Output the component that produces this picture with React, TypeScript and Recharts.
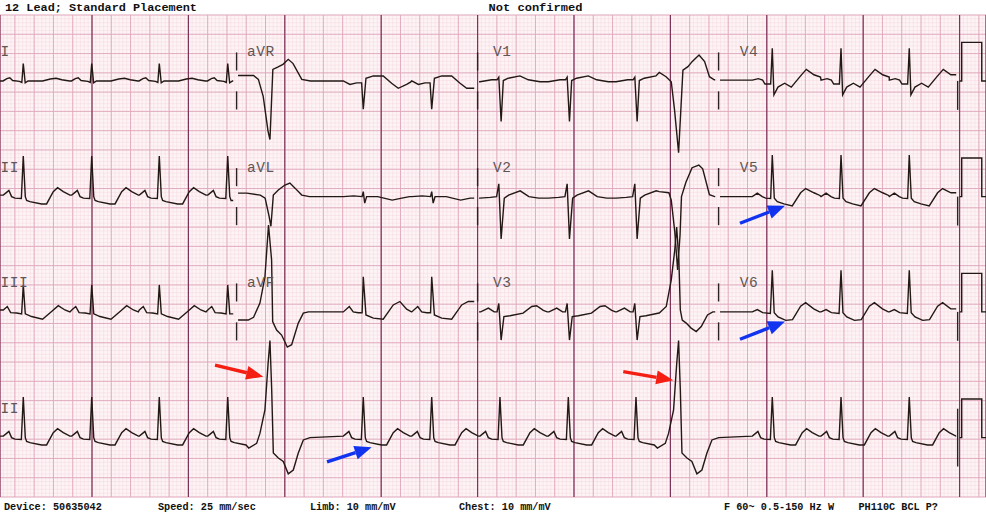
import React from "react";
import {
  CartesianGrid,
  ComposedChart,
  Line,
  ReferenceDot,
  ReferenceLine,
  XAxis,
  YAxis,
} from "recharts";

type Pt = [number, number]; // [seconds from R, mV]

// R times (s)
const NORMAL_BEATS = [0.287, 0.997, 1.698, 2.408, 3.814, 4.524, 5.232, 5.941, 6.643, 8.057, 8.77, 9.478];
const PVC_BEATS = [2.846, 7.085];

// beat shapes per lead
const BEAT_I: Pt[] = [[-0.21, 0], [-0.17, 0.06], [-0.14, 0.08], [-0.11, 0.01], [-0.04, -0.01], [-0.015, -0.04], [0, 0.45], [0.02, -0.05], [0.05, 0], [0.2, 0], [0.28, 0.05], [0.34, 0.07], [0.4, 0.03], [0.48, 0]];
const BEAT_II: Pt[] = [[-0.207, 0.04], [-0.173, 0.11], [-0.149, 0.16], [-0.121, 0], [-0.086, -0.04], [-0.02, -0.05], [0, 1.05], [0.021, 0], [0.035, -0.1], [0.069, -0.13], [0.19, -0.19], [0.242, -0.19], [0.311, 0.13], [0.356, 0.23], [0.415, 0.13], [0.484, 0.04]];
const PVC_II: Pt[] = [[-0.22, -0.27], [-0.138, -0.15], [-0.104, 0.11], [-0.052, 0.72], [-0.02, 1.9], [0, 2.52], [0.018, 1.24], [0.035, -0.4], [0.087, -0.53], [0.138, -0.62], [0.19, -0.94], [0.242, -0.84], [0.294, -0.4], [0.346, -0.06], [0.415, 0]];
const BEAT_III: Pt[] = [[-0.207, 0.05], [-0.166, 0.14], [-0.131, -0.02], [-0.069, -0.03], [-0.017, -0.05], [0, 0.7], [0.021, -0.05], [0.086, -0.12], [0.2, -0.19], [0.294, 0.01], [0.363, 0.16], [0.432, 0.05], [0.484, 0]];
const BEAT_AVR: Pt[] = [[-0.207, 0], [-0.138, -0.09], [-0.069, -0.05], [-0.017, -0.05], [0, -0.73], [0.028, 0.07], [0.104, 0.13], [0.207, 0.13], [0.294, -0.06], [0.363, -0.19], [0.45, -0.09], [0.49, -0.03]];
const PVC_AVR: Pt[] = [[-0.346, 0.14], [-0.17, 0.14], [-0.12, 0.04], [-0.07, -0.4], [-0.02, -1.3], [0, -1.52], [0.03, 0.3], [0.08, 0.36], [0.135, 0.43], [0.19, 0.56], [0.24, 0.45], [0.33, 0.04], [0.42, 0]];
const BEAT_AVL: Pt[] = [[-0.207, 0], [-0.1, 0.02], [-0.012, 0], [0, 0.13], [0.015, -0.17], [0.035, 0], [0.15, 0], [0.3, -0.09], [0.4, -0.04], [0.48, 0]];
const PVC_AVL: Pt[] = [[-0.346, 0.04], [-0.24, 0.09], [-0.1, 0.04], [-0.05, -0.04], [-0.01, -0.5], [0.01, -0.77], [0.035, 0.04], [0.087, 0.17], [0.155, 0.3], [0.207, 0.35], [0.26, 0.22], [0.33, 0.04], [0.41, 0]];
const BEAT_AVF: Pt[] = [[-0.207, 0], [-0.145, 0.14], [-0.104, 0], [-0.052, -0.02], [-0.012, -0.02], [0, 0.91], [0.028, -0.08], [0.104, -0.16], [0.207, -0.19], [0.311, 0.18], [0.38, 0.27], [0.45, 0.07], [0.5, 0]];
const PVC_AVF: Pt[] = [[-0.346, -0.08], [-0.225, -0.21], [-0.17, -0.14], [-0.104, 0.23], [-0.052, 0.91], [-0.015, 2.25], [0.017, 1.35], [0.028, -0.25], [0.069, -0.47], [0.121, -0.6], [0.18, -0.91], [0.225, -0.85], [0.294, -0.29], [0.346, -0.03], [0.398, 0]];
const BEAT_V1: Pt[] = [[-0.207, -0.02], [-0.086, 0.03], [-0.03, 0.03], [-0.012, 0.1], [0.012, -1.05], [0.035, 0.01], [0.086, 0.07], [0.207, 0.13], [0.294, 0.03], [0.415, -0.02], [0.484, -0.02]];
const PVC_V1: Pt[] = [[-0.2, 0.22], [-0.13, 0.11], [-0.076, -0.02], [-0.042, -0.75], [0, -1.86], [0.045, 0.28], [0.097, 0.37], [0.14, 0.5], [0.212, 0.67], [0.27, 0.5], [0.32, 0.11], [0.37, 0.03], [0.41, 0]];
const BEAT_V2: Pt[] = [[-0.207, -0.04], [-0.1, -0.02], [-0.035, 0], [-0.012, 0.33], [0.012, -1.1], [0.045, -0.04], [0.09, 0.04], [0.21, 0.15], [0.3, 0], [0.4, -0.04], [0.484, -0.04]];
const PVC_V2: Pt[] = [[-0.2, 0.13], [-0.1, 0.1], [-0.076, -0.09], [-0.04, -0.9], [-0.01, -1.9], [0.015, -1], [0.03, 0], [0.076, 0.37], [0.14, 0.75], [0.21, 0.82], [0.25, 0.72], [0.32, 0.05], [0.375, 0], [0.41, 0]];
const BEAT_V3: Pt[] = [[-0.2, 0], [-0.12, 0.1], [-0.06, 0], [-0.03, 0], [-0.012, 0.22], [0.012, -0.73], [0.041, -0.12], [0.104, -0.1], [0.24, -0.03], [0.33, 0.14], [0.38, 0.16], [0.45, 0.04], [0.49, 0]];
const PVC_V3: Pt[] = [[-0.2, -0.03], [-0.128, 0.14], [-0.076, 0.83], [-0.04, 1.6], [-0.02, 2.2], [0.003, 1.35], [0.018, 0.05], [0.038, -0.21], [0.079, -0.29], [0.13, -0.42], [0.183, -0.51], [0.235, -0.38], [0.3, -0.08], [0.355, 0], [0.41, 0.03]];
const BEAT_V4: Pt[] = [[-0.207, 0.02], [-0.145, 0.06], [-0.1, 0.02], [-0.076, -0.08], [-0.017, -0.08], [0, 0.85], [0.017, -0.36], [0.059, -0.16], [0.128, -0.06], [0.197, -0.16], [0.294, 0.13], [0.353, 0.3], [0.432, 0.16], [0.5, 0.1]];
const BEAT_V5: Pt[] = [[-0.207, 0], [-0.155, 0.09], [-0.104, 0], [-0.069, -0.04], [-0.017, -0.05], [0, 1.08], [0.021, -0.04], [0.052, -0.13], [0.121, -0.19], [0.207, -0.24], [0.294, 0.1], [0.346, 0.21], [0.432, 0.1], [0.494, 0.03]];
const BEAT_V6: Pt[] = [[-0.207, 0], [-0.155, 0.06], [-0.1, -0.02], [-0.02, -0.04], [0, 1.08], [0.02, -0.02], [0.06, -0.13], [0.14, -0.22], [0.21, -0.2], [0.294, 0.15], [0.346, 0.24], [0.43, 0.08], [0.49, 0]];

// 1 mV calibration pulse at the end of each row
const CAL_PULSE: Pt[] = [[10.0, 0], [10.022, 0], [10.022, 1], [10.23, 1], [10.23, 0], [10.274, 0]];

// lead-change marks (mV)
const SEP_TIMES = [2.5, 5, 7.5];
const SEP_BARS: Pt[] = [[0.27, 0.74], [-0.74, -0.27]];

// annotation arrows [[t, mm], [t, mm]]
const RED_ARROWS: [Pt, Pt][] = [[[2.276, 34.2], [2.777, 31.2]], [[6.511, 32.5], [7.03, 30.3]]];
const BLUE_ARROWS: [Pt, Pt][] = [[[3.438, 9.1], [3.901, 12.9]], [[7.722, 71.0], [8.189, 75.5]], [[7.722, 40.9], [8.189, 45.5]]];

const HEADER = ["12 Lead; Standard Placement", "Not confirmed"];
const FOOTER = ["Device: 50635042", "Speed: 25 mm/sec", "Limb: 10 mm/mV", "Chest: 10 mm/mV", "F 60~ 0.5-150 Hz W", "PH110C BCL P?"];

const X0 = 0.0456;
const X1 = 10.274;
const ROW_BASE = [107.9, 77.9, 48.0, 15.4]; // mm above bottom of grid
const SEGMENTS = [[0, 2.5], [2.5, 5], [5, 7.5], [7.5, 10]];
const LABEL_T = [X0 + 0.005, 2.608, 5.16, 7.72];

const LEADS = [
  { label: "I", row: 0, col: 0, normal: BEAT_I },
  { label: "aVR", row: 0, col: 1, normal: BEAT_AVR, pvc: PVC_AVR },
  { label: "V1", row: 0, col: 2, normal: BEAT_V1, pvc: PVC_V1 },
  { label: "V4", row: 0, col: 3, normal: BEAT_V4 },
  { label: "II", row: 1, col: 0, normal: BEAT_II },
  { label: "aVL", row: 1, col: 1, normal: BEAT_AVL, pvc: PVC_AVL },
  { label: "V2", row: 1, col: 2, normal: BEAT_V2, pvc: PVC_V2 },
  { label: "V5", row: 1, col: 3, normal: BEAT_V5 },
  { label: "III", row: 2, col: 0, normal: BEAT_III },
  { label: "aVF", row: 2, col: 1, normal: BEAT_AVF, pvc: PVC_AVF },
  { label: "V3", row: 2, col: 2, normal: BEAT_V3, pvc: PVC_V3 },
  { label: "V6", row: 2, col: 3, normal: BEAT_V6 },
  { label: "II", row: 3, col: -1, normal: BEAT_II, pvc: PVC_II },
];

function segRange(col: number) {
  if (col < 0) return [X0, 9.965];
  const [s, e] = SEGMENTS[col];
  return [Math.max(X0, s + 0.015), e - 0.035];
}

function buildTrace(lead: any) {
  const [start, end] = segRange(lead.col);
  const beats = [
    ...NORMAL_BEATS.map((t) => ({ t, shape: lead.normal as Pt[] })),
    ...(lead.pvc ? PVC_BEATS.map((t) => ({ t, shape: lead.pvc as Pt[] })) : []),
  ].sort((a, b) => a.t - b.t);
  const pts: { t: number; v: number }[] = [];
  beats.forEach((b, i) => {
    const next = beats[i + 1];
    const limit = next ? next.t + next.shape[0][0] : Infinity;
    b.shape.forEach(([dt, v]) => {
      const t = b.t + dt;
      if (t < limit && t >= start && t <= end) pts.push({ t, v });
    });
  });
  if (pts[0].t > start) pts.unshift({ t: start, v: pts[0].v });
  if (pts[pts.length - 1].t < end) pts.push({ t: end, v: pts[pts.length - 1].v });
  const base = ROW_BASE[lead.row];
  return pts.map((p) => ({ t: p.t, y: base + p.v * 10 }));
}

const TRACES = LEADS.map(buildTrace);
const CAL_TRACES = ROW_BASE.map((base) => CAL_PULSE.map(([t, v]) => ({ t, y: base + v * 10 })));

const MINOR_X = Array.from({ length: 255 }, (_, i) => Math.round((i + 2) * 4) / 100);
const BOX_X = Array.from({ length: 51 }, (_, i) => Math.round((i + 1) * 2) / 10);
const SEC_X = Array.from({ length: 10 }, (_, i) => i + 1);
const MINOR_Y = Array.from({ length: 126 }, (_, i) => i);
const BOX_Y = Array.from({ length: 26 }, (_, i) => i * 5);

const MONO = "'Liberation Mono', 'DejaVu Sans Mono', monospace";

function arrowShape(color: string) {
  return (p: any) => {
    const { x1, y1, x2, y2 } = p;
    const a = Math.atan2(y2 - y1, x2 - x1);
    const len = 17;
    const half = 7;
    const bx = x2 - len * Math.cos(a);
    const by = y2 - len * Math.sin(a);
    const nx = -Math.sin(a) * half;
    const ny = Math.cos(a) * half;
    return (
      <g>
        <line x1={x1} y1={y1} x2={bx} y2={by} stroke={color} strokeWidth={3.4} />
        <polygon points={`${x2},${y2} ${bx + nx},${by + ny} ${bx - nx},${by - ny}`} fill={color} />
      </g>
    );
  };
}

function labelShape(text: string) {
  return (p: any) => (
    <text x={p.cx} y={p.cy} fill="#5e5656" fontFamily={MONO} fontSize={14.5} letterSpacing={0.6}>
      {text}
    </text>
  );
}

export default function App() {
  const ax = { xAxisId: "m", yAxisId: "m" };
  return (
    <div style={{ position: "absolute", left: 0, top: 0, width: 986, height: 527, background: "#fff" }}>
      <svg width={986} height={527} style={{ position: "absolute", left: 0, top: 0 }}>
        <g fontFamily={MONO} fontWeight="bold" fill="#111">
          <text x={5} y={11} fontSize={11.8} textLength={192} lengthAdjust="spacingAndGlyphs">{HEADER[0]}</text>
          <text x={488.5} y={11} fontSize={11.8} textLength={94} lengthAdjust="spacingAndGlyphs">{HEADER[1]}</text>
          <text x={4} y={509.5} fontSize={10.2}>{FOOTER[0]}</text>
          <text x={158} y={509.5} fontSize={10.2}>{FOOTER[1]}</text>
          <text x={310} y={509.5} fontSize={10.2}>{FOOTER[2]}</text>
          <text x={459} y={509.5} fontSize={10.2}>{FOOTER[3]}</text>
          <text x={724} y={509.5} fontSize={10.2}>{FOOTER[4]}</text>
          <text x={858.5} y={509.5} fontSize={10.2}>{FOOTER[5]}</text>
        </g>
      </svg>
      <ComposedChart
        width={986}
        height={527}
        margin={{ top: 15, right: 0, bottom: 30, left: 0 }}
        style={{ position: "absolute", left: 0, top: 0 }}
      >
        <XAxis xAxisId="m" type="number" dataKey="t" domain={[X0, X1]} ticks={MINOR_X} interval={0} hide allowDataOverflow />
        <XAxis xAxisId="b" type="number" dataKey="t" domain={[X0, X1]} ticks={BOX_X} interval={0} hide allowDataOverflow />
        <XAxis xAxisId="s" type="number" dataKey="t" domain={[X0, X1]} ticks={SEC_X} interval={0} hide allowDataOverflow />
        <YAxis yAxisId="m" type="number" domain={[0, 125]} ticks={MINOR_Y} interval={0} hide allowDataOverflow />
        <YAxis yAxisId="b" type="number" domain={[0, 125]} ticks={BOX_Y} interval={0} hide allowDataOverflow />
        <YAxis yAxisId="s" type="number" domain={[0, 125]} ticks={BOX_Y} interval={0} hide allowDataOverflow />

        <CartesianGrid xAxisId="m" yAxisId="m" stroke="#f6dbe3" strokeWidth={0.6} fill="#fdf4f6" />
        <CartesianGrid xAxisId="b" yAxisId="b" stroke="#e0a6bb" strokeWidth={0.9} />
        <CartesianGrid xAxisId="s" yAxisId="s" stroke="#7e3358" strokeWidth={1.2} horizontal={false} />

        {TRACES.map((d, i) => (
          <Line key={`tr${i}`} {...ax} data={d} dataKey="y" type="linear" dot={false} activeDot={false}
            stroke="#221814" strokeWidth={1.4} isAnimationActive={false} />
        ))}
        {CAL_TRACES.map((d, i) => (
          <Line key={`cal${i}`} {...ax} data={d} dataKey="y" type="linear" dot={false} activeDot={false}
            stroke="#221814" strokeWidth={1.4} isAnimationActive={false} />
        ))}

        {ROW_BASE.slice(0, 3).flatMap((base, r) =>
          SEP_TIMES.flatMap((t) =>
            SEP_BARS.map(([a, b], k) => (
              <ReferenceLine key={`sep${r}-${t}-${k}`} {...ax} stroke="#2a2222" strokeWidth={1.4}
                segment={[{ x: t, y: base + a * 10 }, { x: t, y: base + b * 10 }]} />
            ))
          )
        )}
        {ROW_BASE.map((base, r) => (
          <ReferenceLine key={`end${r}`} {...ax} stroke="#2a2222" strokeWidth={1.4}
            segment={[{ x: 9.98, y: base - 7.5 }, { x: 9.98, y: r === 3 ? base + 7.5 : base }]} />
        ))}

        {LEADS.map((l, i) => (
          <ReferenceDot key={`lb${i}`} {...ax} r={0}
            x={l.col < 0 ? LABEL_T[0] : LABEL_T[l.col]}
            y={ROW_BASE[l.row] + 6.5} shape={labelShape(l.label)} />
        ))}

        {RED_ARROWS.map(([a, b], i) => (
          <ReferenceLine key={`ra${i}`} {...ax} segment={[{ x: a[0], y: a[1] }, { x: b[0], y: b[1] }]}
            shape={arrowShape("#f41e12")} />
        ))}
        {BLUE_ARROWS.map(([a, b], i) => (
          <ReferenceLine key={`ba${i}`} {...ax} segment={[{ x: a[0], y: a[1] }, { x: b[0], y: b[1] }]}
            shape={arrowShape("#1133f0")} />
        ))}
      </ComposedChart>
    </div>
  );
}
